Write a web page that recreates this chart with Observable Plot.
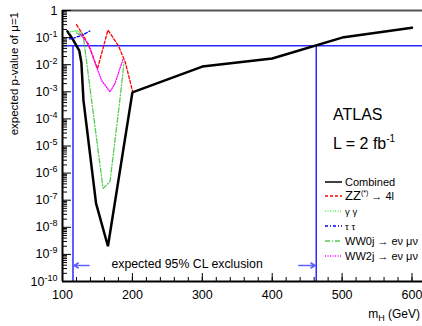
<!DOCTYPE html>
<html><head><meta charset="utf-8">
<script src="https://cdn.jsdelivr.net/npm/d3@7"></script>
<script src="https://cdn.jsdelivr.net/npm/@observablehq/plot@0.6"></script>
<style>
body{margin:0;background:#fff;}
#chart svg{font-family:"Liberation Sans",Arial,Helvetica,sans-serif;}
</style>
</head><body><div id="chart"></div>
<script>
// ---- data ----
const combinedMass = [107, 115, 124, 127, 130, 148, 165, 200, 300, 400, 500, 600];
const combinedP    = [0.17, 0.085, 0.033, 0.012, 4.8e-4, 7.6e-8, 2e-9, 9.5e-4, 8.5e-3, 0.017, 0.1, 0.23];
const zzMass = [120, 130, 140, 150, 165, 180, 190, 200];
const zzP    = [0.3, 0.12, 0.036, 0.007, 0.19, 0.05, 0.012, 0.0011];
const ggMass = [110, 120, 130];
const ggP    = [0.16, 0.18, 0.14];
const ttMass = [110, 115, 130, 140];
const ttP    = [0.09, 0.093, 0.13, 0.18];
const ww0jMass = [120, 130, 158, 168, 182, 188];
const ww0jP    = [0.15, 0.1, 2.7e-7, 4.9e-7, 4.8e-4, 0.012];
const ww2jMass = [125, 137, 147, 156, 168, 175, 187];
const ww2jP    = [0.14, 0.059, 0.011, 0.0026, 0.001, 0.002, 0.017];

const exclusionLimits = [115, 463];
const clLevel = [0.05];
const arrowFrom = [138, 438];
const arrowP = 3.9e-10;
const annotationMass = [170];
const annotationP = [4.3e-10];
const annotationText = ["expected 95% CL exclusion"];

const xTickValues = [100, 200, 300, 400, 500, 600];
const xTickLabels = ["100", "200", "300", "400", "500", "600"];
const xMinorValues = d3.range(100, 620, 20);
const yTickValues = [1e-10,1e-9,1e-8,1e-7,1e-6,1e-5,1e-4,1e-3,1e-2,1e-1,1];
const yTickLabels = ["10^-10","10^-9","10^-8","10^-7","10^-6","10^-5","10^-4","10^-3","10^-2","10^-1","1"];
const yMinorValues = yTickValues.slice(0, -1).flatMap(v => d3.range(2, 10).map(k => k * v));

const seriesNames = ["Combined", "ZZ", "γγ", "ττ", "WW0j", "WW2j"];
const seriesData = [
  [combinedMass, combinedP], [zzMass, zzP], [ggMass, ggP],
  [ttMass, ttP], [ww0jMass, ww0jP], [ww2jMass, ww2jP]
];

// ---- styles ----
const styles = {
  "Combined": {stroke: "#000000", strokeWidth: 2.5, dash: null},
  "ZZ":       {stroke: "#ff0000", strokeWidth: 1.3, dash: "3,2"},
  "γγ":       {stroke: "#55ee55", strokeWidth: 1.3, dash: "1,1.5"},
  "ττ":       {stroke: "#0000ff", strokeWidth: 1.3, dash: "3,2,1,2"},
  "WW0j":     {stroke: "#55cc55", strokeWidth: 1.3, dash: "5,2,1,2"},
  "WW2j":     {stroke: "#ff00ff", strokeWidth: 1.3, dash: "1,1.5"}
};

const rows = seriesNames.map((name, i) =>
  seriesData[i][0].map((m, j) => ({name, mass: m, p: seriesData[i][1][j]})));

const W = 422, H = 326, mL = 62, mT = 10, mB = 45, mR = 0;
const plotW = W - mL - mR, plotH = H - mT - mB;
const yLabelMap = new Map(yTickValues.map((v, i) => [v, yTickLabels[i]]));
const xLabelMap = new Map(xTickValues.map((v, i) => [v, xTickLabels[i]]));

const marks = [
  Plot.ruleY(clLevel, {stroke: "#2a2aff", strokeWidth: 1.5}),
  Plot.ruleX(exclusionLimits, {x: d => d, y1: yTickValues[0], y2: clLevel[0], stroke: "#2a2aff", strokeWidth: 1.5}),
  Plot.arrow(exclusionLimits, {x1: (d, i) => arrowFrom[i], x2: d => d, y1: arrowP, y2: arrowP,
    stroke: "#6060ff", strokeWidth: 1.5, headLength: 5, insetEnd: 1}),
  Plot.text(annotationText, {x: (d, i) => annotationMass[i], y: (d, i) => annotationP[i], text: d => d,
    textAnchor: "start", fontSize: 12.3, fill: "#000"}),
  Plot.ruleY([1], {stroke: "#555", strokeWidth: 2}),
  Plot.ruleY([yTickValues[0]], {stroke: "#000", strokeWidth: 2}),
  Plot.ruleX([xTickValues[0]], {stroke: "#000", strokeWidth: 2}),
  Plot.ruleY(yTickValues, {stroke: "#000", strokeWidth: 1, insetRight: plotW - 9}),
  Plot.ruleY(yMinorValues, {stroke: "#000", strokeWidth: 1, insetRight: plotW - 5}),
  Plot.ruleX(xTickValues, {stroke: "#000", strokeWidth: 1, insetTop: plotH - 8}),
  Plot.ruleX(xMinorValues, {stroke: "#000", strokeWidth: 1, insetTop: plotH - 4}),
  Plot.axisY({ticks: yTickValues, tickSize: 0, tickPadding: 5, fontSize: 12.5, label: null,
    tickFormat: d => yLabelMap.get(d) ?? ""}),
  Plot.axisX({ticks: xTickValues, tickSize: 0, tickPadding: 9, fontSize: 12.5, label: null,
    tickFormat: d => xLabelMap.get(d) ?? ""}),
];
seriesNames.forEach((name, i) => {
  const s = styles[name];
  marks.push(Plot.line(rows[i], {x: "mass", y: "p", stroke: s.stroke, strokeWidth: s.strokeWidth,
    strokeDasharray: s.dash, strokeLinejoin: "miter", curve: "linear"}));
});

const chart = Plot.plot({
  width: W, height: H,
  marginLeft: mL, marginTop: mT, marginBottom: mB, marginRight: mR,
  style: {background: "#fff", color: "#000"},
  x: {domain: [100, 615], range: [mL, W - mR]},
  y: {type: "log", domain: [1e-10, 1]},
  marks
});
document.getElementById("chart").appendChild(chart);

const svg = d3.select(chart);

// superscripts on y tick labels
svg.selectAll('[aria-label="y-axis tick label"] text').each(function() {
  const t = d3.select(this);
  const s = t.text();
  const k = s.indexOf("^");
  if (k < 0) return;
  t.text(s.slice(0, k));
  t.append("tspan").attr("dy", "-0.55em").attr("font-size", "9px").text(s.slice(k + 1));
});

const font = '"Liberation Sans",Arial,Helvetica,sans-serif';
const g = svg.append("g").attr("font-family", font).attr("fill", "#000").attr("text-anchor", "start");

// axis titles
g.append("text").attr("transform", "translate(18,12) rotate(-90)")
  .attr("text-anchor", "end").attr("font-size", "11.5px").text("expected p-value of μ=1");
const xl = g.append("text").attr("x", 420).attr("y", 318).attr("text-anchor", "end").attr("font-size", "12px");
xl.append("tspan").text("m");
xl.append("tspan").attr("dy", 3).attr("font-size", "9px").text("H");
xl.append("tspan").attr("dy", -3).text(" (GeV)");

// ATLAS label
g.append("text").attr("x", 333).attr("y", 120).attr("font-size", "16px").text("ATLAS");
const lum = g.append("text").attr("x", 333).attr("y", 149).attr("font-size", "16px");
lum.append("tspan").text("L = 2 fb");
lum.append("tspan").attr("dy", -7).attr("font-size", "10px").text("-1");

// legend
const legendY = [182, 196, 211, 226, 241, 256];
const legendParts = [
  [["Combined", 11]],
  [["ZZ", 13], ["(*)", 7, -5], [" → 4l", 11, 5]],
  [["γ γ", 9.5]],
  [["τ τ", 9.5]],
  [["WW0j → eν μν", 11]],
  [["WW2j → eν μν", 11]]
];
seriesNames.forEach((name, i) => {
  const s = styles[name];
  const y = legendY[i];
  g.append("line").attr("x1", 325).attr("x2", 342).attr("y1", y).attr("y2", y)
    .attr("stroke", s.stroke).attr("stroke-width", name === "Combined" ? 1.5 : 1.3)
    .attr("stroke-dasharray", s.dash);
  const t = g.append("text").attr("x", 345).attr("y", y + 4).attr("text-anchor", "start");
  legendParts[i].forEach(([str, fs, dy]) => {
    const sp = t.append("tspan").attr("font-size", fs + "px").text(str);
    if (dy) sp.attr("dy", dy);
  });
});
</script>
</body></html>
